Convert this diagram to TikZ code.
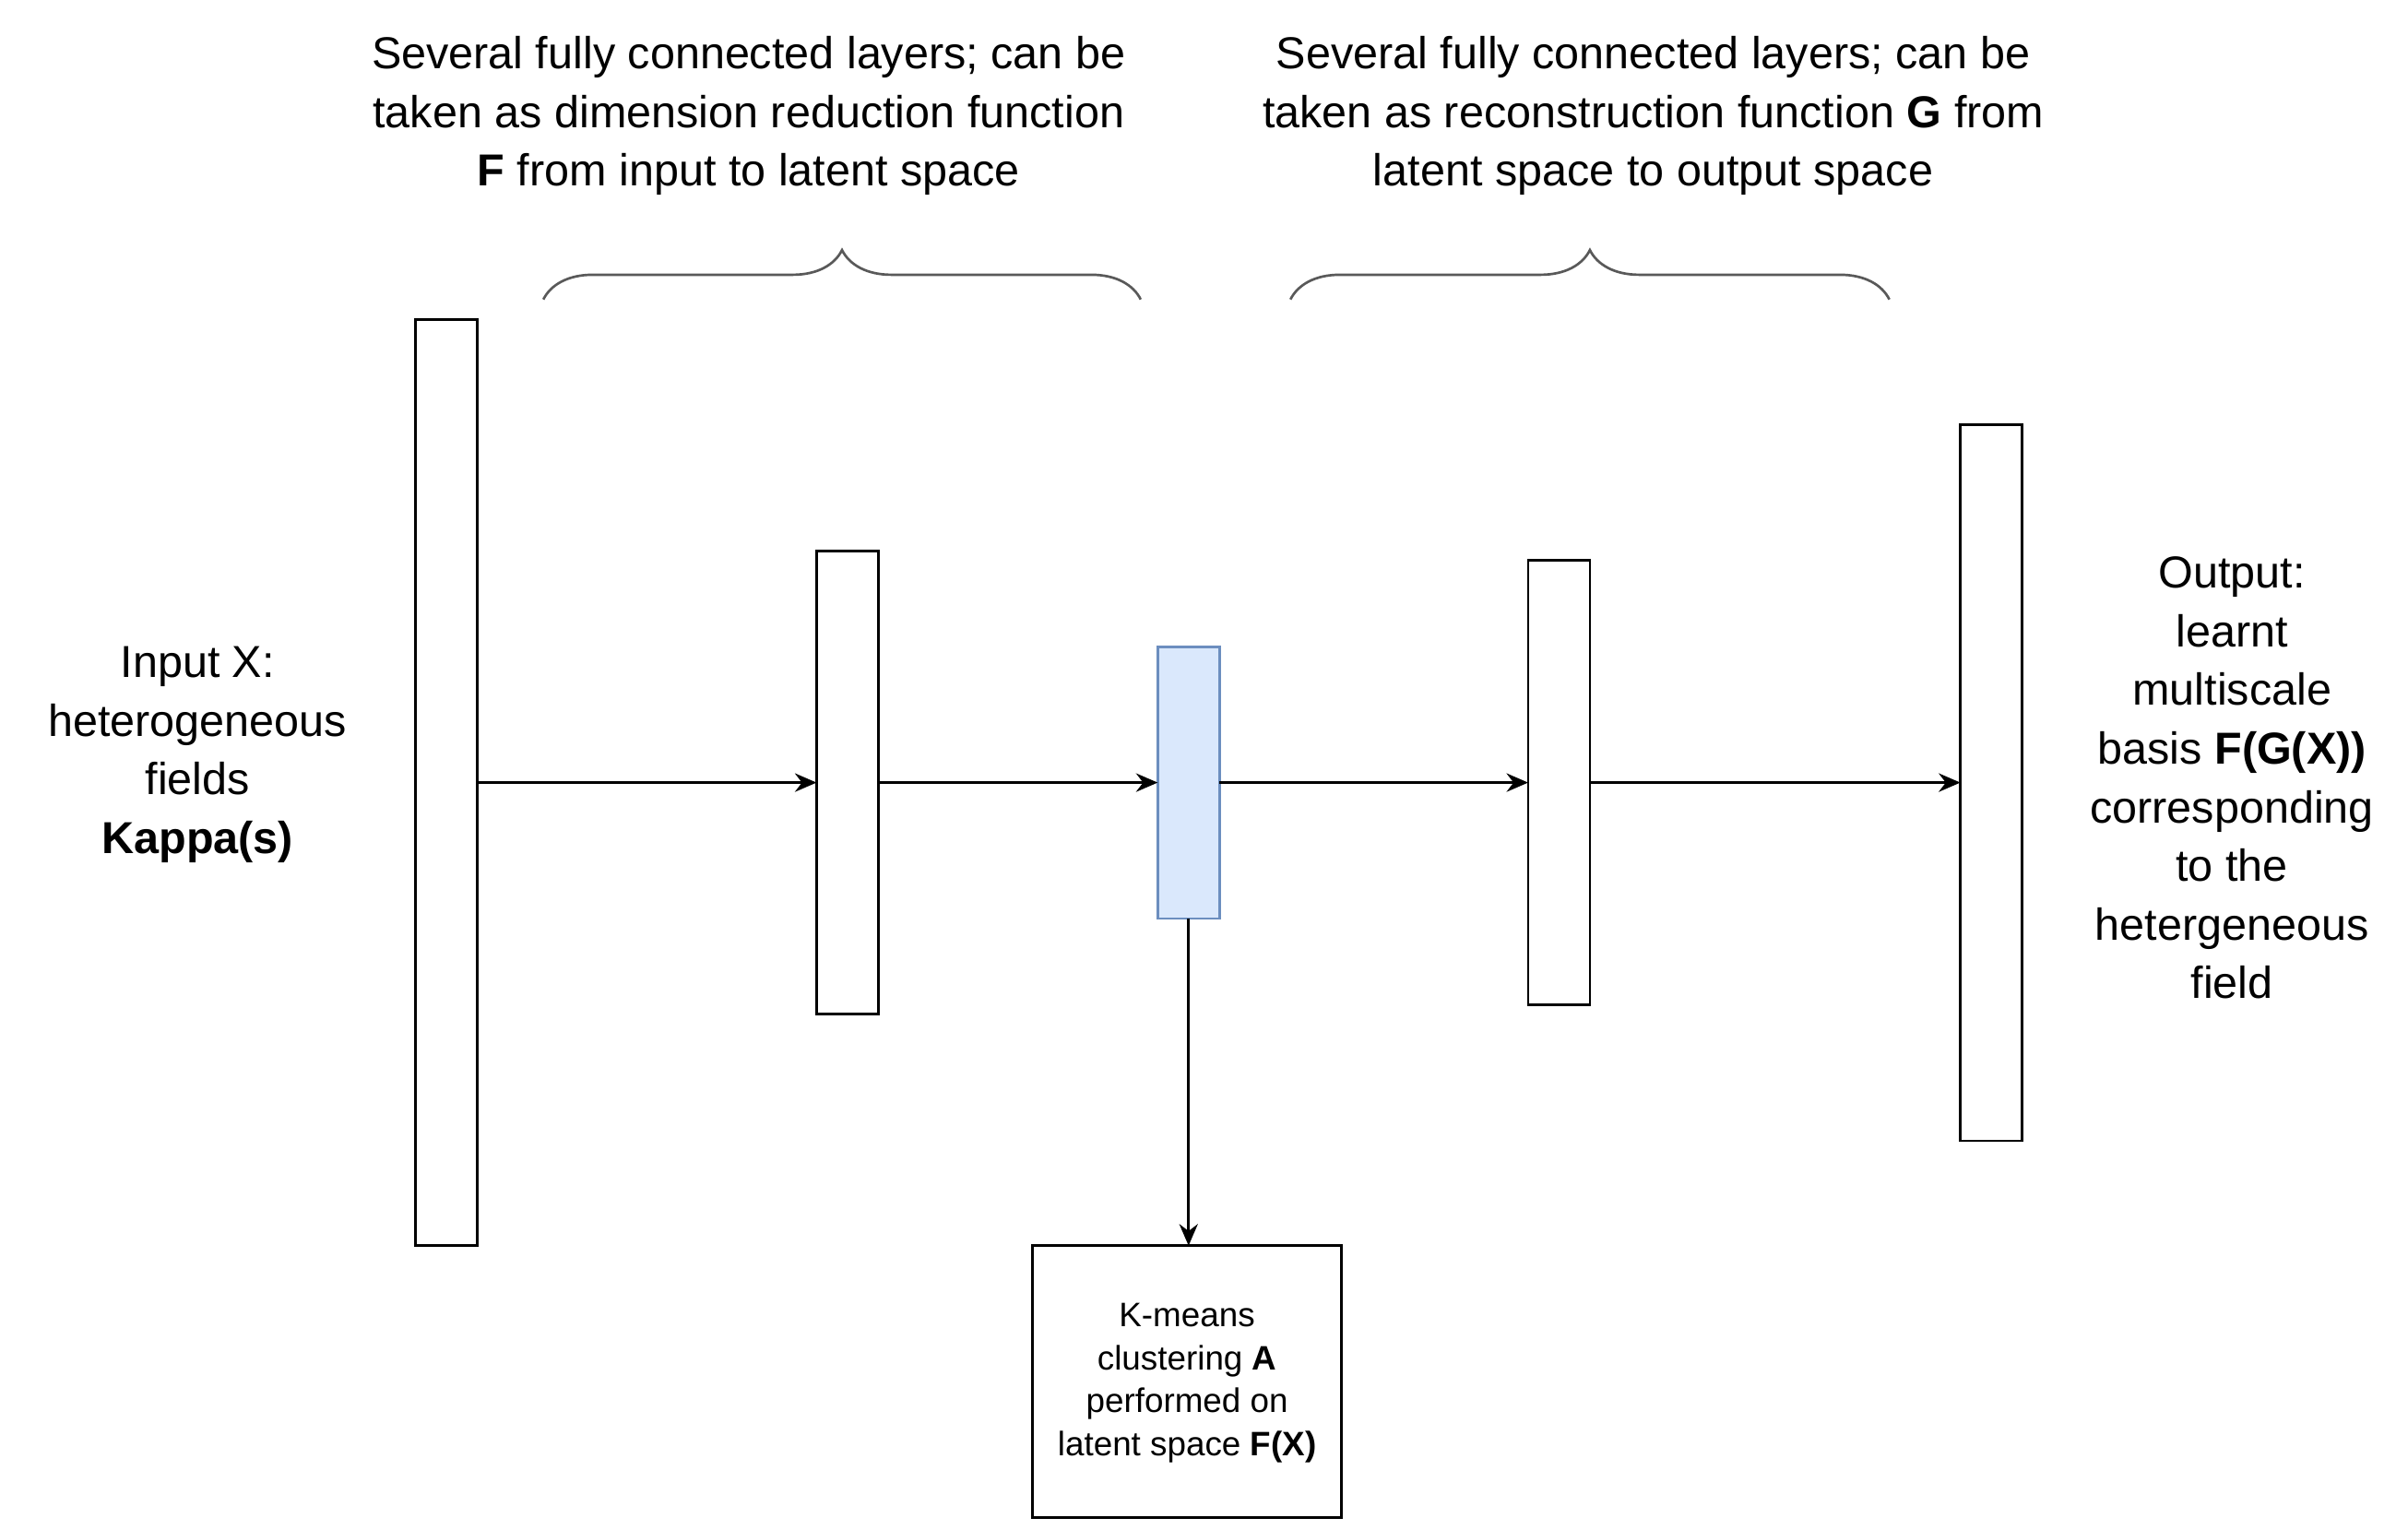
\documentclass[tikz,border=0pt]{standalone}
\usepackage{fontspec}
\setmainfont{Liberation Sans}
\usetikzlibrary{arrows.meta,decorations.pathreplacing}
\definecolor{bfill}{HTML}{DAE8FC}
\definecolor{bline}{HTML}{6C8EBF}
\begin{document}
\begin{tikzpicture}[x=0.5pt,y=-0.5pt,
  layer/.style={draw,thick,fill=white},
  arr/.style={-{Stealth[length=7pt,width=6pt]},thick},
  brc/.style={draw=black!65,thick,decorate,decoration={brace,amplitude=16pt}},
  lbl/.style={align=center,font=\fontsize{14.5}{19}\selectfont},
  small/.style={align=center,font=\fontsize{11}{14}\selectfont}]
\useasboundingbox (0,0) rectangle (1560,991);
\draw[layer] (269,207) rectangle (309,807);
\draw[layer] (529,357) rectangle (569,657);
\draw[thick,draw=bline,fill=bfill] (750,419) rectangle (790,595);
\draw[layer] (990,363) rectangle (1030,651);
\draw[layer] (1270,275) rectangle (1310,739);
\draw[layer] (669,807) rectangle (869,983);
\coordinate (a1) at (309,507); \coordinate (a2) at (529,507);
\coordinate (b1) at (569,507); \coordinate (b2) at (750,507);
\coordinate (c1) at (790,507); \coordinate (c2) at (990,507);
\coordinate (d1) at (1030,507); \coordinate (d2) at (1270,507);
\coordinate (e1) at (770,595); \coordinate (e2) at (770,807);
\draw[arr] (a1)--(a2); \draw[arr] (b1)--(b2); \draw[arr] (c1)--(c2);
\draw[arr] (d1)--(d2); \draw[arr] (e1)--(e2);
\draw[brc] (352,194) -- (739,194);
\draw[brc] (836,194) -- (1224,194);
\node[lbl] (t1) at (485,75) {Several fully connected layers; can be\\taken as dimension reduction function\\\textbf{F} from input to latent space};
\node[lbl] (t2) at (1071,75) {Several fully connected layers; can be\\taken as reconstruction function \textbf{G} from\\latent space to output space};
\node[lbl] (t3) at (128,489) {Input X:\\heterogeneous\\fields\\\textbf{Kappa(s)}};
\node[lbl] (t4) at (1446,504) {Output:\\learnt\\multiscale\\basis \textbf{F(G(X))}\\corresponding\\to the\\ hetergeneous\\field};
\node[small] (t5) at (769,896) {K-means\\clustering \textbf{A}\\performed on\\latent space \textbf{F(X)}};
\end{tikzpicture}
\end{document}
